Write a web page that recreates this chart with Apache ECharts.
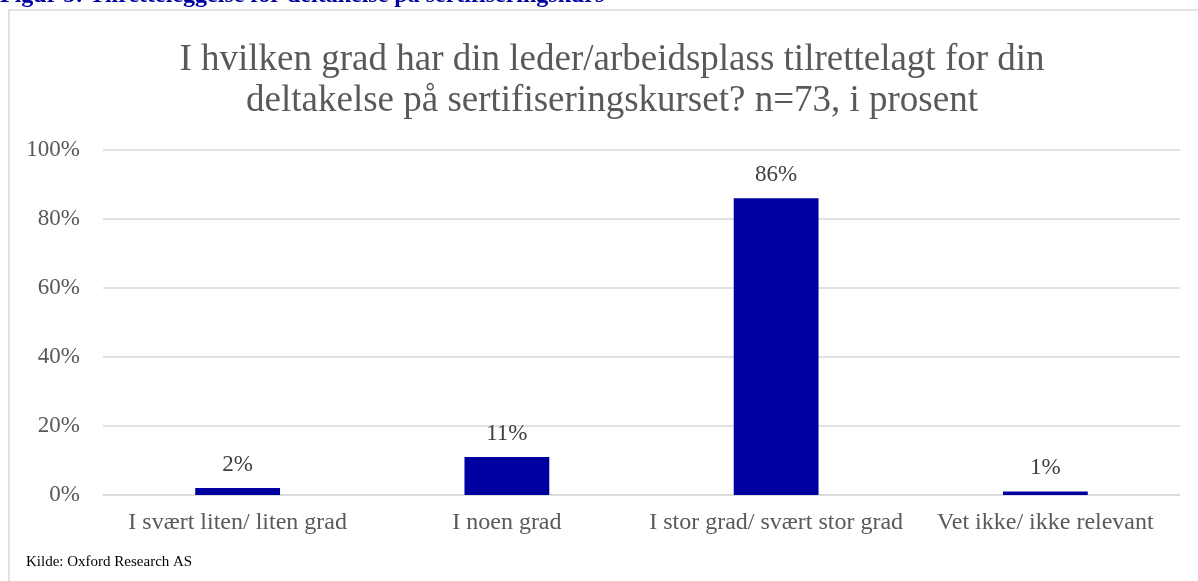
<!DOCTYPE html>
<html>
<head>
<meta charset="utf-8">
<script src="https://cdn.jsdelivr.net/npm/echarts@6/dist/echarts.min.js"></script>
<style>
  html, body { margin: 0; padding: 0; background: #fff; }
  #main { width: 1198px; height: 581px; }
</style>
</head>
<body>
<div id="main"></div>
<script>
// data
const categories = ['I svært liten/ liten grad', 'I noen grad', 'I stor grad/ svært stor grad', 'Vet ikke/ ikke relevant'];
const values = [2, 11, 86, 1];
const yTicks = [0, 20, 40, 60, 80, 100];

const serif = '"Liberation Serif", "Times New Roman", serif';

const chart = echarts.init(document.getElementById('main'));

const option = {
  animation: false,
  backgroundColor: '#fff',
  title: {
    text: 'I hvilken grad har din leder/arbeidsplass tilrettelagt for din\ndeltakelse på sertifiseringskurset? n=73, i prosent',
    left: 607,
    textAlign: 'center',
    top: 35,
    textStyle: {
      fontFamily: serif,
      fontSize: 37,
      fontWeight: 'normal',
      color: '#595959',
      lineHeight: 41
    }
  },
  graphic: [
    {
      // chart frame
      type: 'rect',
      shape: { x: 9, y: 10, width: 1250, height: 650 },
      style: { fill: 'none', stroke: '#d9d9d9', lineWidth: 1.5 },
      z: 0
    },
    {
      // figure caption, cut at top
      type: 'text',
      left: 0,
      top: -16,
      style: {
        text: 'Figur 5: Tilretteleggelse for deltakelse på sertifiseringskurs',
        font: 'bold 24px ' + serif,
        fill: '#0000a0'
      }
    },
    {
      type: 'text',
      left: 26,
      top: 555,
      style: {
        text: 'Kilde: Oxford Research AS',
        font: '15px ' + serif,
        fill: '#000'
      }
    }
  ],
  grid: {
    left: 103,
    right: 18,
    top: 150,
    bottom: 86,
    containLabel: false
  },
  xAxis: {
    type: 'category',
    data: categories,
    axisLine: { lineStyle: { color: '#d9d9d9', width: 1.5 } },
    axisTick: { show: false },
    axisLabel: {
      interval: 0,
      fontFamily: serif,
      fontSize: 24,
      color: '#595959',
      margin: 16
    }
  },
  yAxis: {
    type: 'value',
    min: yTicks[0],
    max: yTicks[yTicks.length - 1],
    interval: yTicks[1] - yTicks[0],
    axisLine: { show: false },
    axisTick: { show: false },
    splitLine: { lineStyle: { color: '#d9d9d9', width: 1.5 } },
    axisLabel: {
      formatter: '{value}%',
      fontFamily: serif,
      fontSize: 23,
      color: '#595959',
      margin: 23
    }
  },
  series: [{
    type: 'bar',
    data: values,
    barWidth: '31.5%',
    itemStyle: { color: '#0000a0' },
    label: {
      show: true,
      position: 'top',
      distance: 12,
      formatter: '{c}%',
      fontFamily: serif,
      fontSize: 23,
      color: '#404040'
    }
  }]
};

chart.setOption(option);
</script>
</body>
</html>
